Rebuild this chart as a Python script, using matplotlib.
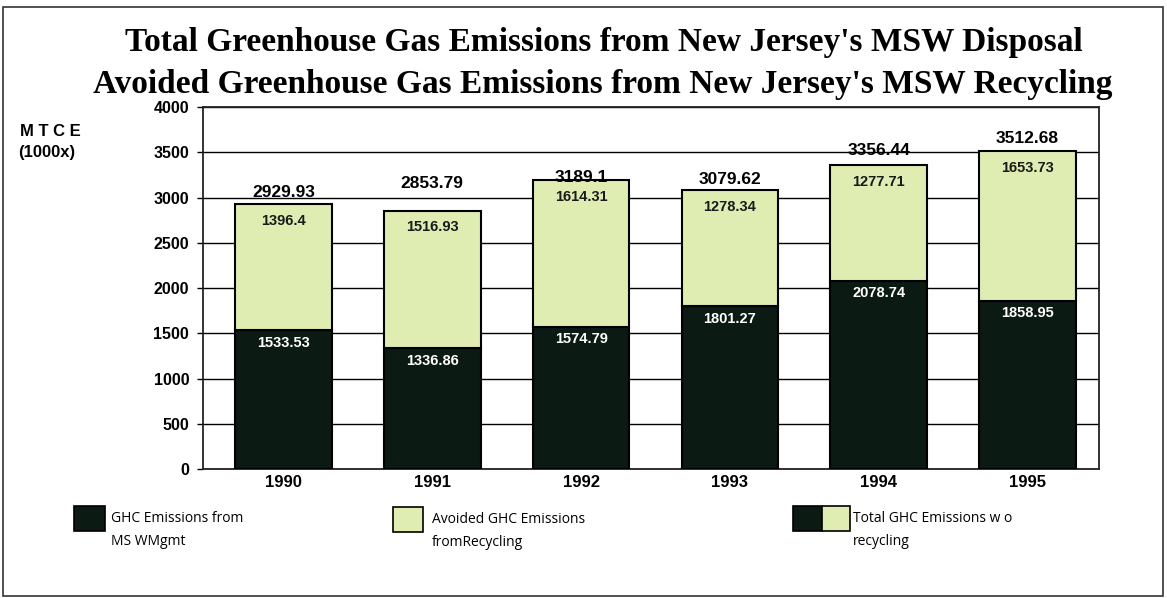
import numpy as np
import matplotlib.pyplot as plt
from matplotlib.patches import Rectangle

# ---------------------------------------------------------------------
# data (MTCE, thousands)
# ---------------------------------------------------------------------
years = ["1990", "1991", "1992", "1993", "1994", "1995"]
msw_mgmt = [1533.53, 1336.86, 1574.79, 1801.27, 2078.74, 1858.95]
avoided = [1396.4, 1516.93, 1614.31, 1278.34, 1277.71, 1653.73]
totals = [2929.93, 2853.79, 3189.1, 3079.62, 3356.44, 3512.68]

y_ticks = [0, 500, 1000, 1500, 2000, 2500, 3000, 3500, 4000]

# label offsets above each bar top, in points
total_pad = [2.5, 14, -3, 2.5, 5.5, 3.5]

DARK = "#0b1a13"
LIGHT = "#dfedb3"

plt.rcParams.update({
    "font.family": ["Liberation Sans", "DejaVu Sans"],
    "font.weight": "bold",
})

fig = plt.figure(figsize=(11.67, 5.98), dpi=100)
ax = fig.add_axes([0.174, 0.2157, 0.7677, 0.6053])

x = np.arange(len(years))
width = 0.65

ax.bar(x, msw_mgmt, width, color=DARK, edgecolor="black", linewidth=1.5, zorder=3)
ax.bar(x, avoided, width, bottom=msw_mgmt, color=LIGHT, edgecolor="black",
       linewidth=1.5, zorder=3)

for i in range(len(years)):
    top = msw_mgmt[i] + avoided[i]
    ax.annotate(f"{totals[i]:g}", (x[i], top), xytext=(0, total_pad[i]),
                textcoords="offset points", ha="center", va="bottom",
                fontsize=12.5, fontweight="bold", color="black", zorder=5)
    ax.annotate(f"{avoided[i]:g}", (x[i], top), xytext=(0, -7),
                textcoords="offset points", ha="center", va="top",
                fontsize=10.5, fontweight="bold", color="#1a1a1a", zorder=5)
    ax.annotate(f"{msw_mgmt[i]:g}", (x[i], msw_mgmt[i]), xytext=(0, -4),
                textcoords="offset points", ha="center", va="top",
                fontsize=10.5, fontweight="bold", color="white", zorder=5)

ax.set_xlim(-0.54, 5.48)
ax.set_ylim(0, 4000)
ax.set_yticks(y_ticks)
ax.set_yticklabels([str(v) for v in y_ticks], fontsize=11.5, fontweight="bold")
ax.set_xticks(x)
ax.set_xticklabels(years, fontsize=12, fontweight="bold")
ax.tick_params(axis="x", length=0, pad=4)
ax.tick_params(axis="y", length=4, width=1, direction="out", pad=6)

ax.yaxis.grid(True, color="black", linewidth=1.0, zorder=0)
ax.set_axisbelow(True)
for spine in ax.spines.values():
    spine.set_linewidth(1.3)
    spine.set_color("#222222")

# y-axis caption
fig.text(20 / 1167, 1 - 132 / 598, "M T C E", fontsize=12, fontweight="bold",
         ha="left", va="center")
fig.text(18 / 1167, 1 - 153 / 598, "(1000x)", fontsize=12, fontweight="bold",
         ha="left", va="center")

# two-line title
title_kw = dict(family=["Liberation Serif", "DejaVu Serif"], fontweight="bold",
                fontsize=24, ha="center", va="center")
fig.text(604 / 1167, 1 - 42 / 598,
         "Total Greenhouse Gas Emissions from New Jersey's MSW Disposal", **title_kw)
fig.text(603 / 1167, 1 - 84 / 598,
         "Avoided Greenhouse Gas Emissions from New Jersey's MSW Recycling", **title_kw)

# legend drawn in pixel space
def px_rect(x0, y0, w, h, color):
    fig.patches.append(Rectangle((x0 / 1167, 1 - (y0 + h) / 598), w / 1167, h / 598,
                                 transform=fig.transFigure, facecolor=color,
                                 edgecolor="black", linewidth=1.2))

leg_kw = dict(family=["Open Sans", "DejaVu Sans"], fontsize=10, fontweight="normal",
              ha="left", va="center", linespacing=1.75)

px_rect(74, 506, 31, 25, DARK)
fig.text(111 / 1167, 1 - 530 / 598, "GHC Emissions from\nMS WMgmt", **leg_kw)

px_rect(393, 507, 30, 25, LIGHT)
fig.text(432 / 1167, 1 - 531 / 598, "Avoided GHC Emissions\nfromRecycling", **leg_kw)

px_rect(793, 506, 29, 25, DARK)
px_rect(822, 506, 28, 25, LIGHT)
fig.text(853 / 1167, 1 - 530 / 598, "Total GHC Emissions w o\nrecycling", **leg_kw)

# outer frame
fig.patches.append(Rectangle((3 / 1167, 2 / 598), 1160 / 1167, 589 / 598,
                             transform=fig.transFigure, fill=False,
                             edgecolor="#333333", linewidth=1.2))

fig.savefig("out.png", dpi=100)
